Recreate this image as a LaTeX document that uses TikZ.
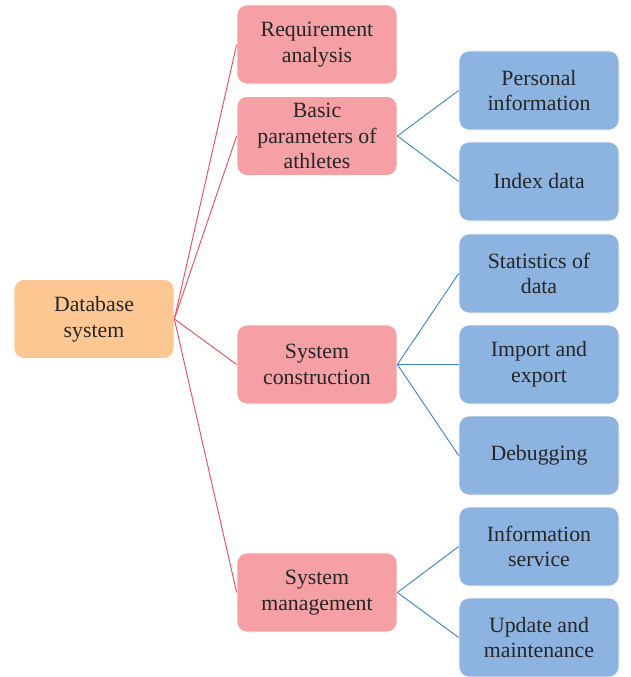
\documentclass[tikz,border=0pt]{standalone}
\usepackage{fontspec}
\setmainfont{Liberation Serif}
\usetikzlibrary{positioning}
\definecolor{rootfill}{HTML}{FCC792}
\definecolor{midfill}{HTML}{F4A0A4}
\definecolor{leaffill}{HTML}{8DB3E0}
\definecolor{redline}{HTML}{E8505B}
\definecolor{blueline}{HTML}{3F86C8}
\begin{document}
\begin{tikzpicture}[
 x=0.03cm, y=-0.03cm,
 box/.style={rectangle, rounded corners=0.3cm, minimum width=4.8cm, minimum height=2.37cm, align=center, text=black!85, font=\fontsize{18.6}{22}\selectfont, draw=white, line width=0.6pt},
 rootbox/.style={box, fill=rootfill},
 midbox/.style={box, fill=midfill},
 leafbox/.style={box, fill=leaffill},
 redlink/.style={draw=redline, line width=0.8pt},
 bluelink/.style={draw=blueline, line width=0.8pt}
]
\useasboundingbox (0,0) rectangle (630,677);

% root
\node[rootbox] (db) at (94,319) {Database\\system};

% second level
\node[midbox] (req) at (317,44.5) {Requirement\\analysis};
\node[midbox] (basic) at (317,136) {Basic\\parameters of\\athletes};
\node[midbox] (constr) at (317,364.5) {System\\construction};
\node[midbox] (manage) at (317,592.5) {System\\management};

% third level
\node[leafbox] (personal) at (539,90.5) {Personal\\information};
\node[leafbox] (index) at (539,181.5) {Index data};
\node[leafbox] (stats) at (539,273.5) {Statistics of\\data};
\node[leafbox] (import) at (539,364.5) {Import and\\export};
\node[leafbox] (debug) at (539,455.5) {Debugging};
\node[leafbox] (infoserv) at (539,546.5) {Information\\service};
\node[leafbox] (update) at (539,637.5) {Update and\\maintenance};

% links
\draw[redlink] (db.east) -- (req.west);
\draw[redlink] (db.east) -- (basic.west);
\draw[redlink] (db.east) -- (constr.west);
\draw[redlink] (db.east) -- (manage.west);
\draw[bluelink] (basic.east) -- (personal.west);
\draw[bluelink] (basic.east) -- (index.west);
\draw[bluelink] (constr.east) -- (stats.west);
\draw[bluelink] (constr.east) -- (import.west);
\draw[bluelink] (constr.east) -- (debug.west);
\draw[bluelink] (manage.east) -- (infoserv.west);
\draw[bluelink] (manage.east) -- (update.west);

\end{tikzpicture}
\end{document}
